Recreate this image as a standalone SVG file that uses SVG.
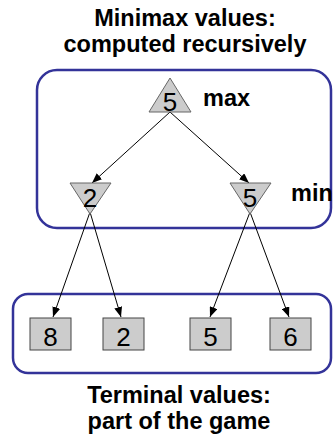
<svg xmlns="http://www.w3.org/2000/svg" width="333" height="438" viewBox="0 0 333 438">
<defs>
<style>
.title{font-family:"Liberation Sans",Arial,sans-serif;font-weight:bold;font-size:23.5px;fill:#000;text-anchor:middle}
.lbl{font-family:"Liberation Sans",Arial,sans-serif;font-weight:bold;font-size:23.5px;fill:#000}
.val{font-family:"Liberation Sans",Arial,sans-serif;font-size:26px;fill:#000;text-anchor:middle}
.box{fill:none;stroke:#333399;stroke-width:2.5}
.tri{fill:#cccccc;stroke:#666666;stroke-width:1}
.sq{fill:#cccccc;stroke:#444444;stroke-width:1}
.edge{stroke:#000;stroke-width:1;fill:none;marker-end:url(#arr)}
</style>
<marker id="arr" markerUnits="userSpaceOnUse" markerWidth="10" markerHeight="8" refX="10" refY="4" orient="auto">
<path d="M0,0 L10,4 L0,8 z" fill="#000"/>
</marker>
</defs>
<rect width="333" height="438" fill="#fff"/>
<g id="title-top">
<text class="title" x="185" y="26">Minimax values:</text>
<text class="title" x="185" y="52">computed recursively</text>
</g>
<g id="box-computed"><rect class="box" x="37" y="70" width="294" height="158" rx="20"/></g>
<g id="box-terminal"><rect class="box" x="13" y="294" width="318" height="79" rx="15"/></g>
<g id="connectors">
<line class="edge" x1="170" y1="112" x2="92" y2="183"/>
<line class="edge" x1="170" y1="112" x2="249" y2="183"/>
<line class="edge" x1="90" y1="212" x2="53" y2="317"/>
<line class="edge" x1="90" y1="212" x2="121" y2="317"/>
<line class="edge" x1="250" y1="212" x2="210" y2="317"/>
<line class="edge" x1="250" y1="212" x2="289" y2="317"/>
</g>
<g id="node-max">
<polygon class="tri" points="149,112 191,112 170,78"/>
<text class="val" x="170" y="111">5</text>
</g>
<g id="label-max"><text class="lbl" x="203" y="106">max</text></g>
<g id="node-min-left">
<polygon class="tri" points="70,183 111,183 90,214"/>
<text class="val" x="90" y="207">2</text>
</g>
<g id="node-min-right">
<polygon class="tri" points="230,183 271,183 250,214"/>
<text class="val" x="250" y="207">5</text>
</g>
<g id="label-min"><text class="lbl" x="291" y="201">min</text></g>
<g id="leaf-8"><rect class="sq" x="30" y="318" width="41" height="32"/><text class="val" x="50.5" y="346">8</text></g>
<g id="leaf-2"><rect class="sq" x="103" y="318" width="41" height="32"/><text class="val" x="123.5" y="346">2</text></g>
<g id="leaf-5"><rect class="sq" x="190" y="318" width="41" height="32"/><text class="val" x="210.5" y="346">5</text></g>
<g id="leaf-6"><rect class="sq" x="270" y="318" width="41" height="32"/><text class="val" x="290.5" y="346">6</text></g>
<g id="title-bottom">
<text class="title" x="179" y="403">Terminal values:</text>
<text class="title" x="179" y="429">part of the game</text>
</g>
</svg>
